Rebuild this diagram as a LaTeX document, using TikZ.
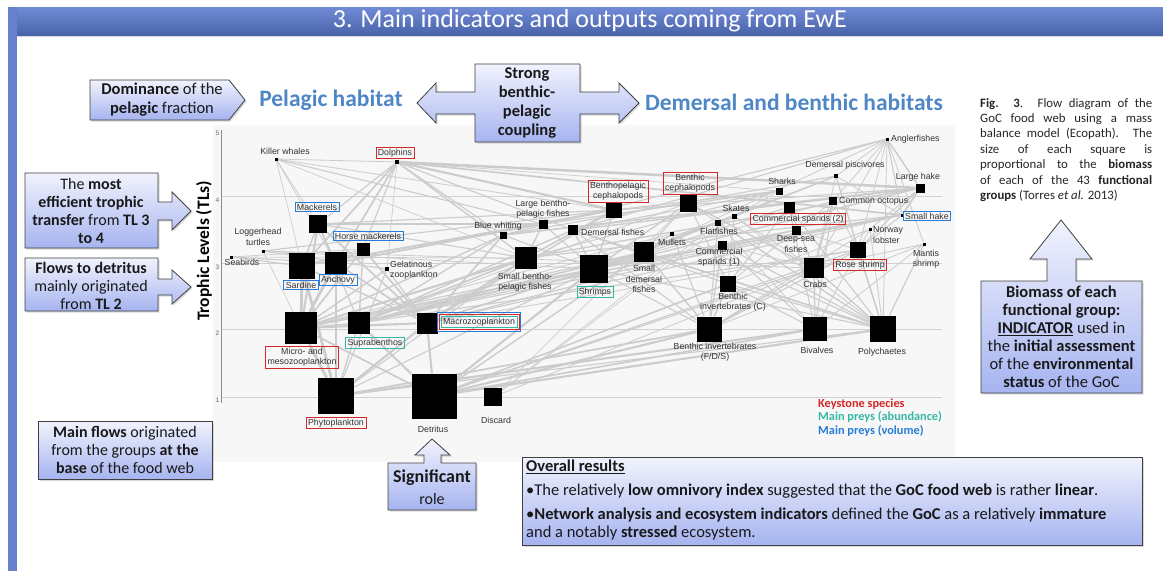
\documentclass[tikz,border=0pt]{standalone}
\usepackage{fontspec}
\setmainfont{Carlito}
\newfontfamily\chartfont{Liberation Sans}
\usetikzlibrary{shadows,fit}
\pgfdeclarelayer{bg}
\pgfdeclarelayer{web}
\pgfsetlayers{bg,web,main}

\definecolor{calltop}{RGB}{241,243,253}
\definecolor{callbot}{RGB}{166,180,240}
\definecolor{headblue}{RGB}{79,134,198}
\definecolor{bandtop}{RGB}{112,138,214}
\definecolor{bandbot}{RGB}{74,100,170}
\definecolor{barblue}{RGB}{104,128,204}
\definecolor{keyred}{RGB}{214,40,40}
\definecolor{preyteal}{RGB}{52,184,166}
\definecolor{preyblue}{RGB}{38,124,214}
\definecolor{flowgray}{RGB}{204,204,204}

\begin{document}
\begin{tikzpicture}[x=1pt,y=-1pt,
    callout/.style={draw=black!75, line width=0.8pt, top color=calltop, bottom color=callbot,
      drop shadow={shadow xshift=1.5pt, shadow yshift=-1.5pt, opacity=0.3}},
    calltext/.style={align=center, inner sep=0pt, text=black!90, font=\fontsize{16}{18}\selectfont},
    heading/.style={text=headblue, font=\bfseries\fontsize{23.5}{26}\selectfont},
    grp/.style={fill=black, inner sep=0pt, minimum size=#1},
    grp/.default=3,
    lbl/.style={font=\chartfont\fontsize{8.8}{10.5}\selectfont, text=black!80, align=center, inner sep=1pt},
    keybox/.style={lbl, draw=keyred, line width=0.7pt, inner xsep=2pt, inner ysep=1.5pt},
    abdbox/.style={lbl, draw=preyteal, line width=0.7pt, inner xsep=2pt, inner ysep=1.5pt},
    volbox/.style={lbl, draw=preyblue, line width=0.7pt, inner xsep=2pt, inner ysep=1.5pt},
    legend/.style={anchor=west, inner sep=0pt, font=\bfseries\fontsize{12.3}{13}\selectfont},
    flow/.style={draw=flowgray}]
\useasboundingbox (0,0) rectangle (1163,571);

% slide frame
\begin{pgfonlayer}{bg}
  \fill[white] (0,0) rectangle (1163,571);
  \fill[black!3] (213,125) rectangle (955,462);
  \foreach \yy in {196,263,329,397}
    \draw[black!18, line width=0.8pt] (221,\yy) -- (942,\yy);
\end{pgfonlayer}
\fill[barblue] (8,7) rectangle (17,571);
\shade[top color=bandtop, bottom color=bandbot] (17,7) rectangle (1163,35);
\draw[black!15, line width=1pt] (17,36) -- (1163,36);
\node[text=white, font=\fontsize{26}{28}\selectfont] (title) at (590,21) {3. Main indicators and outputs coming from EwE};

% chart frame
\draw[black!45, line width=1pt] (221,130) -- (221,403);
\foreach \t/\yy in {5/133,4/200,3/267,2/333,1/400}
  \node[anchor=east, inner sep=0.5pt, text=black!60, font=\chartfont\fontsize{6.5}{7}\selectfont] (tick\t) at (220,\yy) {\t};
\node[rotate=90, font=\bfseries\fontsize{17.5}{19}\selectfont] (tlaxis) at (204,251) {Trophic Levels (TLs)};

% functional groups
\node[grp] (kw) at (276,159) {};
\node[grp=4] (dol) at (397,162) {};
\node[grp=18] (mack) at (318,224) {};
\node[grp] (logt) at (263,251) {};
\node[grp] (seab) at (231,257) {};
\node[grp=26] (sard) at (302,266) {};
\node[grp=22] (anch) at (336,263) {};
\node[grp=13] (hmack) at (363,249) {};
\node[grp=4] (gelz) at (387,269) {};
\node[grp=7] (bwhit) at (503,235) {};
\node[grp=9] (lbpf) at (543,224) {};
\node[grp=22] (sbpf) at (526,258) {};
\node[grp=10] (demf) at (573,230) {};
\node[grp] (angl) at (887,139) {};
\node[grp=4] (dpisc) at (836,176) {};
\node[grp=9] (lhake) at (920,188) {};
\node[grp=7] (shark) at (779,191) {};
\node[grp=8] (octo) at (833,201) {};
\node[grp=16] (bpceph) at (614,210) {};
\node[grp=17] (bceph) at (688,203) {};
\node[grp=5] (skate) at (734,216) {};
\node[grp=6] (flat) at (718,223) {};
\node[grp=11] (cspar2) at (789,207) {};
\node[grp=9] (deep) at (796,230) {};
\node[grp] (shake) at (902,215) {};
\node[grp] (nlob) at (870,229) {};
\node[grp] (mant) at (924,244) {};
\node[grp=16] (rose) at (858,250) {};
\node[grp=4] (mull) at (672,234) {};
\node[grp=9] (cspar1) at (722,245) {};
\node[grp=20] (sdem) at (644,252) {};
\node[grp=28] (shrimp) at (594,269) {};
\node[grp=20] (crab) at (814,268) {};
\node[grp=16] (binvc) at (728,284) {};
\node[grp=25] (binvf) at (709,329) {};
\node[grp=24] (biv) at (815,329) {};
\node[grp=26] (poly) at (883,329) {};
\node[grp=32] (mzoo) at (301,328) {};
\node[grp=22] (supra) at (359,323) {};
\node[grp=21] (macro) at (427,323) {};
\node[grp=36] (phyto) at (336,396) {};
\node[grp=45] (detr) at (434,396) {};
\node[grp=18] (disc) at (493,397) {};

% group labels
\node[lbl] (kwl) at (285,151) {Killer whales};
\node[keybox] (dall) at (395,153) {Dolphins};
\node[volbox] (mackl) at (317,207) {Mackerels};
\node[lbl] (logtl) at (258,237) {Loggerhead\\turtles};
\node[lbl] (seabl) at (242,262) {Seabirds};
\node[volbox] (sardl) at (301,285) {Sardine};
\node[volbox] (anchl) at (338,280) {Anchovy};
\node[volbox] (hmackl) at (368,236) {Horse mackerels};
\node[lbl, anchor=west, align=left] (gelzl) at (389,270) {Gelatinous\\zooplankton};
\node[lbl] (bwhitl) at (498,226) {Blue whiting};
\node[lbl] (lbpfl) at (543,209) {Large bentho-\\pelagic fishes};
\node[lbl] (sbpfl) at (525,282) {Small bentho-\\pelagic fishes};
\node[lbl, anchor=west] (demfl) at (580,232) {Demersal fishes};
\node[lbl, anchor=west] (angll) at (890,139) {Anglerfishes};
\node[lbl] (dpiscl) at (845,165) {Demersal piscivores};
\node[lbl] (lhakel) at (918,177) {Large hake};
\node[lbl] (sharkl) at (782,181) {Sharks};
\node[lbl, anchor=west] (octol) at (838,201) {Common octopus};
\node[keybox] (bpcephl) at (618,191) {Benthopelagic\\cephalopods};
\node[keybox] (bcephl) at (690,183) {Benthic\\cephalopods};
\node[lbl] (skatel) at (736,208) {Skates};
\node[lbl] (flatl) at (719,231) {Flatfishes};
\node[keybox] (cspar2l) at (798,219) {Commercial sparids (2)};
\node[lbl] (deepl) at (796,244) {Deep-sea\\fishes};
\node[volbox] (shakel) at (927,216) {Small hake};
\node[lbl, anchor=west, align=left] (nlobl) at (872,235) {Norway\\lobster};
\node[lbl] (mantl) at (926,259) {Mantis\\shrimp};
\node[keybox] (rosel) at (860,265) {Rose shrimp};
\node[lbl] (mulll) at (672,242) {Mullets};
\node[lbl] (cspar1l) at (719,257) {Commercial\\sparids (1)};
\node[lbl] (sdeml) at (644,279) {Small\\demersal\\fishes};
\node[abdbox] (shrimpl) at (595,292) {Shrimps};
\node[lbl] (crabl) at (815,284) {Crabs};
\node[lbl] (binvcl) at (733,302) {Benthic\\invertebrates (C)};
\node[lbl] (binvfl) at (715,352) {Benthic invertebrates\\(F/D/S)};
\node[lbl] (bivl) at (817,350) {Bivalves};
\node[lbl] (polyl) at (882,352) {Polychaetes};
\node[keybox] (mzool) at (302,357) {Micro- and\\mesozooplankton};
\node[abdbox] (supral) at (375,343) {Suprabenthos};
\node[abdbox] (macrol) at (479,322) {Macrozooplankton};
\node[fit=(macrol), draw=keyred, line width=0.7pt, inner sep=1.6pt] (macrokey) {};
\node[fit=(macrol), draw=preyblue, line width=0.7pt, inner sep=3.4pt] (macrovol) {};
\node[keybox] (phytol) at (336,423) {Phytoplankton};
\node[lbl] (detrl) at (433,429) {Detritus};
\node[lbl] (discl) at (496,420) {Discard};

% legend
\node[legend, text=keyred] (lgkey) at (818,404) {Keystone species};
\node[legend, text=preyteal] (lgabd) at (818,417) {Main preys (abundance)};
\node[legend, text=preyblue] (lgvol) at (818,431) {Main preys (volume)};

% trophic flows
\begin{pgfonlayer}{web}
\foreach \a/\b/\w in {kw/dol/.6, kw/mack/.5, kw/sard/.5, kw/anch/.5, kw/lbpf/.8, kw/bpceph/.6, kw/sbpf/.5,
  dol/mack/.8, dol/sard/1.2, dol/anch/1.2, dol/hmack/.8, dol/bwhit/.8, dol/bpceph/1.5, dol/sbpf/1,
  dol/lhake/1.8, dol/shake/1.2, dol/demf/.8, dol/gelz/.5,
  seab/sard/.8, seab/anch/.8, seab/sbpf/.5, seab/hmack/.5,
  logt/gelz/.8, logt/bpceph/.8, logt/crab/.6, logt/shrimp/.6, logt/mzoo/.5,
  mack/sard/1, mack/anch/1, mack/mzoo/1.5, mack/macro/1.2, mack/supra/.8, mack/sbpf/.8,
  sard/mzoo/2, sard/phyto/2, sard/macro/1, anch/mzoo/2, anch/phyto/1.5, anch/macro/1.2,
  hmack/mzoo/1.2, hmack/macro/1.2, hmack/supra/1, hmack/anch/.8, hmack/sard/.8,
  gelz/mzoo/1, gelz/phyto/.8, gelz/macro/.8,
  bwhit/macro/1.2, bwhit/mzoo/1, bwhit/supra/1, bwhit/shrimp/.8,
  lbpf/sbpf/1, lbpf/sard/.8, lbpf/anch/.8, lbpf/shrimp/.8, lbpf/mack/.8,
  sbpf/mzoo/1.5, sbpf/macro/1.5, sbpf/supra/1.2, sbpf/phyto/.8,
  demf/shrimp/1, demf/binvc/.8, demf/binvf/.8, demf/supra/1, demf/poly/.8,
  bpceph/sbpf/1.2, bpceph/sard/1.2, bpceph/anch/1.2, bpceph/shrimp/1, bpceph/macro/1, bpceph/mack/.8,
  bceph/crab/1, bceph/shrimp/1, bceph/binvc/.8, bceph/sdem/.8, bceph/poly/.6, bceph/supra/.6,
  mull/detr/1, mull/binvf/.8, mull/poly/.8, mull/mzoo/.6,
  sdem/supra/1.2, sdem/shrimp/1, sdem/binvf/1, sdem/poly/1, sdem/macro/1, sdem/mzoo/.8,
  shrimp/detr/1.5, shrimp/mzoo/1.2, shrimp/supra/1.2, shrimp/macro/1, shrimp/binvf/.8, shrimp/poly/.8, shrimp/phyto/.8,
  skate/shrimp/.6, skate/crab/.6, skate/binvc/.6, skate/poly/.6, skate/disc/.5,
  flat/poly/.8, flat/binvf/.8, flat/biv/.6, flat/supra/.6, flat/shrimp/.6, flat/disc/.5,
  cspar1/biv/.8, cspar1/poly/.8, cspar1/binvf/.8, cspar1/crab/.6,
  shark/sbpf/.8, shark/bpceph/.8, shark/lbpf/.8, shark/demf/.8, shark/skate/.5, shark/dol/.5,
  cspar2/crab/.8, cspar2/biv/.8, cspar2/poly/.8, cspar2/binvc/.8, cspar2/shrimp/.8,
  deep/shrimp/.8, deep/supra/.8, deep/macro/.8, deep/rose/.6,
  dpisc/sdem/.8, dpisc/shrimp/.8, dpisc/rose/.8, dpisc/crab/.6, dpisc/flat/.6, dpisc/bwhit/.8, dpisc/shake/.6, dpisc/poly/.5,
  octo/crab/1, octo/biv/.8, octo/rose/.6, octo/binvc/.6, octo/shrimp/.6,
  lhake/shake/1.2, lhake/bwhit/1.2, lhake/sbpf/1, lhake/shrimp/1, lhake/demf/1, lhake/rose/.8, lhake/nlob/.6, lhake/bpceph/.8,
  angl/lhake/1, angl/shake/.8, angl/sdem/.6, angl/rose/.6, angl/crab/.6, angl/mant/.6, angl/poly/.6,
  angl/bwhit/.8, angl/demf/.8, angl/dpisc/.6, angl/octo/.6,
  shake/shrimp/1, shake/rose/.8, shake/macro/.8, shake/supra/.8, shake/sbpf/.8, shake/mzoo/.6,
  nlob/poly/.6, nlob/biv/.6, nlob/detr/.6, nlob/binvf/.6,
  mant/poly/.8, mant/biv/.6, mant/crab/.6, mant/binvf/.6,
  rose/poly/1, rose/binvf/.8, rose/detr/.8, rose/supra/.8, rose/macro/.6,
  crab/biv/1, crab/poly/1, crab/binvf/1, crab/detr/.8, crab/disc/.6,
  binvc/binvf/1, binvc/poly/.8, binvc/biv/.8, binvc/detr/1,
  binvf/detr/1.5, binvf/phyto/1.2, biv/phyto/1.5, biv/detr/1.2, poly/detr/1.5, poly/phyto/.8,
  mzoo/phyto/2, mzoo/detr/1.2, supra/detr/1.5, supra/phyto/1, supra/mzoo/1,
  macro/phyto/1.5, macro/mzoo/1.5, macro/detr/1.5, disc/bceph/.5}
  \draw[flow, line width=1.4*\w pt] (\a) -- (\b);
\end{pgfonlayer}

% habitats and coupling
\node[heading] (pelh) at (331,100) {Pelagic habitat};
\node[heading] (demh) at (794,102) {Demersal and benthic habitats};
\draw[callout] (475,64) -- (580,64) -- (580,92) -- (619,92) -- (619,83) -- (639,103) -- (619,123)
  -- (619,114) -- (580,114) -- (580,142) -- (475,142) -- (475,114) -- (436,114) -- (436,123)
  -- (417,103) -- (436,83) -- (436,92) -- (475,92) -- cycle;
\node[calltext, font=\bfseries\fontsize{16.5}{18.8}\selectfont] (coupl) at (527,103) {Strong\\benthic-\\pelagic\\coupling};

% left callouts
\draw[callout] (90,80) -- (229,80) -- (245,100) -- (229,120) -- (90,120) -- cycle;
\node[calltext, font=\fontsize{16.5}{19}\selectfont] (domin) at (162,100) {\textbf{Dominance} of the\\\textbf{pelagic} fraction};
\draw[callout] (25,173) -- (158,173) -- (158,202) -- (172,202) -- (172,192) -- (191,211) -- (172,230)
  -- (172,220) -- (158,220) -- (158,248) -- (25,248) -- cycle;
\node[calltext] (trans) at (91,211) {The \textbf{most}\\\textbf{efficient trophic}\\\textbf{transfer} from \textbf{TL 3}\\\textbf{to 4}};
\draw[callout] (25,258) -- (158,258) -- (158,279) -- (172,279) -- (172,270) -- (191,287) -- (172,304)
  -- (172,295) -- (158,295) -- (158,311) -- (25,311) -- cycle;
\node[calltext] (detflow) at (91,286) {\textbf{Flows to detritus}\\mainly originated\\from \textbf{TL 2}};
\draw[callout] (38,421) rectangle (212,479);
\node[calltext] (mainfl) at (125,450) {\textbf{Main flows} originated\\from the groups \textbf{at the}\\\textbf{base} of the food web};

% bottom callouts
\draw[callout] (388,463) -- (424,463) -- (424,455) -- (415,455) -- (432,439) -- (450,455) -- (441,455)
  -- (441,463) -- (476,463) -- (476,510) -- (388,510) -- cycle;
\node[calltext] (signif) at (432,487) {\textbf{\fontsize{18}{20}\selectfont Significant}\\[4pt]role};
\draw[callout] (522,457) rectangle (1142,545);
\node[anchor=north west, inner sep=0pt, align=left, text=black!90, font=\fontsize{16.5}{18}\selectfont] (overall) at (526,460)
  {\underline{\textbf{Overall results}}\\[6pt]
   •The relatively \textbf{low omnivory index} suggested that the \textbf{GoC food web} is rather \textbf{linear}.\\[6pt]
   •\textbf{Network analysis and ecosystem indicators} defined the \textbf{GoC} as a relatively \textbf{immature}\\
   and a notably \textbf{stressed} ecosystem.};

% right side
\node[anchor=north west, inner sep=0pt, align=left, text=black!85, font=\fontsize{12.8}{15.4}\selectfont] (figcap) at (980,98)
  {\makebox[172pt][s]{\textbf{Fig. 3}. Flow diagram of the}\\
   \makebox[172pt][s]{GoC food web using a mass}\\
   \makebox[172pt][s]{balance model (Ecopath). The}\\
   \makebox[172pt][s]{size of each square is}\\
   \makebox[172pt][s]{proportional to the \textbf{biomass}}\\
   \makebox[172pt][s]{of each of the 43 \textbf{functional}}\\
   \textbf{groups} (Torres \textit{et al.} 2013)};
\draw[callout] (981,281) -- (1047,281) -- (1047,259) -- (1030,259) -- (1061,220) -- (1092,259)
  -- (1076,259) -- (1076,281) -- (1142,281) -- (1142,393) -- (981,393) -- cycle;
\node[calltext, font=\fontsize{16.5}{18}\selectfont] (biomass) at (1061.5,337)
  {\textbf{Biomass of each}\\\textbf{functional group:}\\\underline{\textbf{INDICATOR}} used in\\the \textbf{initial assessment}\\of the \textbf{environmental}\\\textbf{status} of the GoC};
\end{tikzpicture}
\end{document}
